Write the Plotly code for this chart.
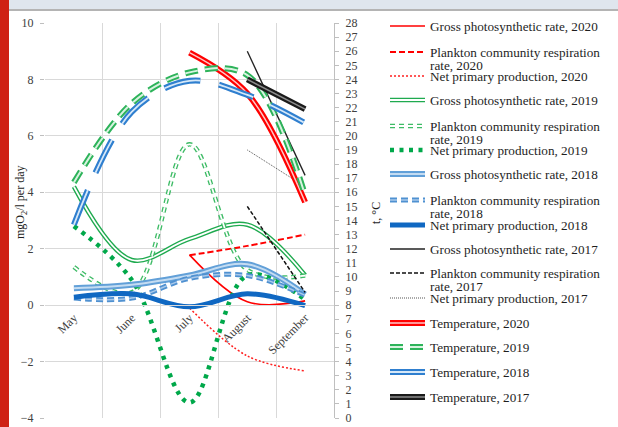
import plotly.graph_objects as go

# ---------------- data ----------------
months = ["May", "June", "July", "August", "September"]

gross_2020 = [None, None, 1.78, 0.12, 0.15]
resp_2020 = [None, None, 1.77, 2.1, 2.5]
npp_2020 = [None, None, -0.1, -1.8, -2.33]

gross_2019 = [4.2, 1.6, 2.35, 2.85, 1.06]
resp_2019 = [1.35, 0.45, 5.7, 1.25, 1.05]
npp_2019 = [2.8, 0.9, -3.45, 1.06, 0.2]

gross_2018 = [0.6, 0.72, 1.05, 1.45, 0.38]
resp_2018 = [0.25, 0.25, 0.95, 1.05, 0.35]
npp_2018 = [0.28, 0.4, -0.06, 0.4, -0.02]

gross_2017 = [None, None, None, 9.0, 4.6]
resp_2017 = [None, None, None, 3.5, 0.45]
npp_2017 = [None, None, None, 5.5, 4.2]

temp_2020 = [None, None, 25.9, 23.0, 15.3]
temp_2019 = [16.7, 22.3, 24.5, 24.3, 15.8]
temp_2018 = [13.7, 21.7, 23.9, 22.9, 20.9]
temp_2017 = [None, None, None, 24.0, 21.9]

left_ticks = [-4, -2, 0, 2, 4, 6, 8, 10]
right_ticks = list(range(0, 29))

# ---------------- geometry ----------------
W, H = 618, 427
L, R, T, B = 45, 284, 23, 9
PW, PH = W - L - R, H - T - B
SERIF = "Liberation Serif, Times New Roman, serif"
FS = 13.2
TXT = "#1e1e1e"
AX = "#404040"
GRID = "#d9d9d9"


def px(x):
    return (x - L) / PW


def py(y):
    return (H - B - y) / PH


# (series, legend text, second legend line, first-line y px, axis, base style, overlay style)
items = [
    (gross_2020, "Gross photosynthetic rate, 2020", None, 26, "y",
     dict(color="#ff0000", width=1.6), None),
    (resp_2020, "Plankton community respiration", "rate, 2020", 52, "y",
     dict(color="#ff0000", width=2, dash="6px,3px"), None),
    (npp_2020, "Net primary production, 2020", None, 76, "y",
     dict(color="#ff2020", width=1.5, dash="2px,2px"), None),
    (gross_2019, "Gross photosynthetic rate, 2019", None, 100, "y",
     dict(color="#1faa4f", width=4.5), dict(color="#ffffff", width=1.8)),
    (resp_2019, "Plankton community respiration", "rate, 2019", 126, "y",
     dict(color="#3dbb65", width=4.5, dash="5px,4px"),
     dict(color="#ffffff", width=1.8, dash="5px,4px")),
    (npp_2019, "Net primary production, 2019", None, 150, "y",
     dict(color="#00a84a", width=4.5, dash="4px,5.5px"), None),
    (gross_2018, "Gross photosynthetic rate, 2018", None, 174, "y",
     dict(color="#62a0d8", width=6), dict(color="#c4dcf2", width=2)),
    (resp_2018, "Plankton community respiration", "rate, 2018", 200, "y",
     dict(color="#4f91d1", width=5, dash="7px,4px"),
     dict(color="#a9c9ea", width=1.5, dash="7px,4px")),
    (npp_2018, "Net primary production, 2018", None, 225, "y",
     dict(color="#1068c2", width=5), None),
    (gross_2017, "Gross photosynthetic rate, 2017", None, 249, "y",
     dict(color="#222222", width=1.3), None),
    (resp_2017, "Plankton community respiration", "rate, 2017", 273, "y",
     dict(color="#111111", width=1.5, dash="4px,2px"), None),
    (npp_2017, "Net primary production, 2017", None, 298, "y",
     dict(color="#555555", width=1, dash="1px,1px"), None),
    (temp_2020, "Temperature, 2020", None, 323, "y2",
     dict(color="#ff0000", width=6), dict(color="#ffc8c8", width=1.5)),
    (temp_2019, "Temperature, 2019", None, 347, "y2",
     dict(color="#2db35a", width=6, dash="13px,7px"),
     dict(color="#d8f3e0", width=2, dash="13px,7px")),
    (temp_2018, "Temperature, 2018", None, 372, "y2",
     dict(color="#2f7fcf", width=6, dash="37px,19px"),
     dict(color="#d6e8f8", width=1.8, dash="37px,19px")),
    (temp_2017, "Temperature, 2017", None, 397, "y2",
     dict(color="#1a1a1a", width=6), dict(color="#8c8c8c", width=1.5)),
]

fig = go.Figure()
legends = {}
annotations = []
LEG_X = 385
ITEM_W = 35
TOP_OFF = 6.5 + 0.65 * FS


def legend_cfg(ycenter, transparent=False):
    return dict(
        x=LEG_X / W, xref="container", xanchor="left",
        y=1 - (ycenter - TOP_OFF) / H, yref="container", yanchor="top",
        bgcolor="rgba(0,0,0,0)", borderwidth=0, valign="top",
        itemwidth=ITEM_W,
        font=dict(family=SERIF, size=FS,
                  color="rgba(0,0,0,0)" if transparent else TXT),
    )


ov_idx = len(items) + 1
for i, (vals, name, line2, yc, axis, base, over) in enumerate(items):
    lid = "legend" if i == 0 else f"legend{i + 1}"
    legends[lid] = legend_cfg(yc)
    fig.add_trace(go.Scatter(
        x=months, y=vals, name=name, mode="lines", yaxis=axis,
        line=dict(shape="spline", smoothing=1, **base),
        legend=lid, hoverinfo="skip",
    ))
    if over is not None:
        oid = f"legend{ov_idx}"
        ov_idx += 1
        legends[oid] = legend_cfg(yc, transparent=True)
        fig.add_trace(go.Scatter(
            x=months, y=vals, name=name, mode="lines", yaxis=axis,
            line=dict(shape="spline", smoothing=1, **over),
            legend=oid, hoverinfo="skip",
        ))
    if line2:
        annotations.append(dict(
            text=line2, x=px(428), y=py(yc + 13),
            xref="paper", yref="paper", xanchor="left", yanchor="middle",
            showarrow=False, font=dict(family=SERIF, size=FS, color=TXT),
        ))

annotations += [
    dict(text="mgO<sub>2</sub>/l per day", textangle=-90,
         x=px(21), y=py(202), xref="paper", yref="paper",
         xanchor="center", yanchor="middle",
         showarrow=False, font=dict(family=SERIF, size=12, color=TXT)),
    dict(text="t, °C", textangle=-90,
         x=px(376), y=py(213), xref="paper", yref="paper",
         xanchor="center", yanchor="middle",
         showarrow=False, font=dict(family=SERIF, size=12, color=TXT)),
]

fig.update_layout(
    width=W, height=H,
    margin=dict(l=L, r=R, t=T, b=B, autoexpand=False),
    paper_bgcolor="white", plot_bgcolor="white",
    font=dict(family=SERIF, size=12, color=AX),
    showlegend=True,
    xaxis=dict(
        type="category", categoryorder="array", categoryarray=months,
        range=[-0.5, 4.5], tickson="boundaries",
        showgrid=True, gridcolor=GRID, gridwidth=1,
        anchor="free", position=4 / 14,
        showline=True, linecolor=GRID, linewidth=1,
        ticks="", tickangle=-45,
        tickfont=dict(family=SERIF, size=12, color=AX),
        zeroline=False,
    ),
    yaxis=dict(
        range=[-4, 10], tickvals=left_ticks,
        showgrid=True, gridcolor=GRID, gridwidth=1,
        zeroline=False, showline=False,
        ticks="outside", ticklen=4, tickcolor="#bfbfbf",
        tickfont=dict(family=SERIF, size=12, color=AX),
        ticklabelstandoff=4,
    ),
    yaxis2=dict(
        range=[0, 28], tickvals=right_ticks, overlaying="y", side="right",
        anchor="x", showgrid=False, zeroline=False,
        showline=True, linecolor="#bfbfbf", linewidth=1,
        ticks="outside", ticklen=4, tickcolor="#bfbfbf",
        tickfont=dict(family=SERIF, size=12, color=AX),
        ticklabelstandoff=4,
    ),
    annotations=annotations,
    shapes=[
        dict(type="rect", xref="paper", yref="paper",
             x0=px(-5), x1=px(625), y0=py(9.5), y1=py(-5),
             fillcolor="#dfe6ee", line=dict(width=0), layer="above"),
        dict(type="line", xref="paper", yref="paper",
             x0=px(-5), x1=px(625), y0=py(10), y1=py(10),
             line=dict(color="#b4b4b4", width=2), layer="above"),
        dict(type="rect", xref="paper", yref="paper",
             x0=px(-5), x1=px(9), y0=py(432), y1=py(-5),
             fillcolor="#cf2114", line=dict(width=0), layer="above"),
    ],
    **legends,
)

fig.write_html(
    "out.html",
    config={"displayModeBar": False},
    post_script="document.body.style.margin='0';document.body.style.overflow='hidden';",
)
